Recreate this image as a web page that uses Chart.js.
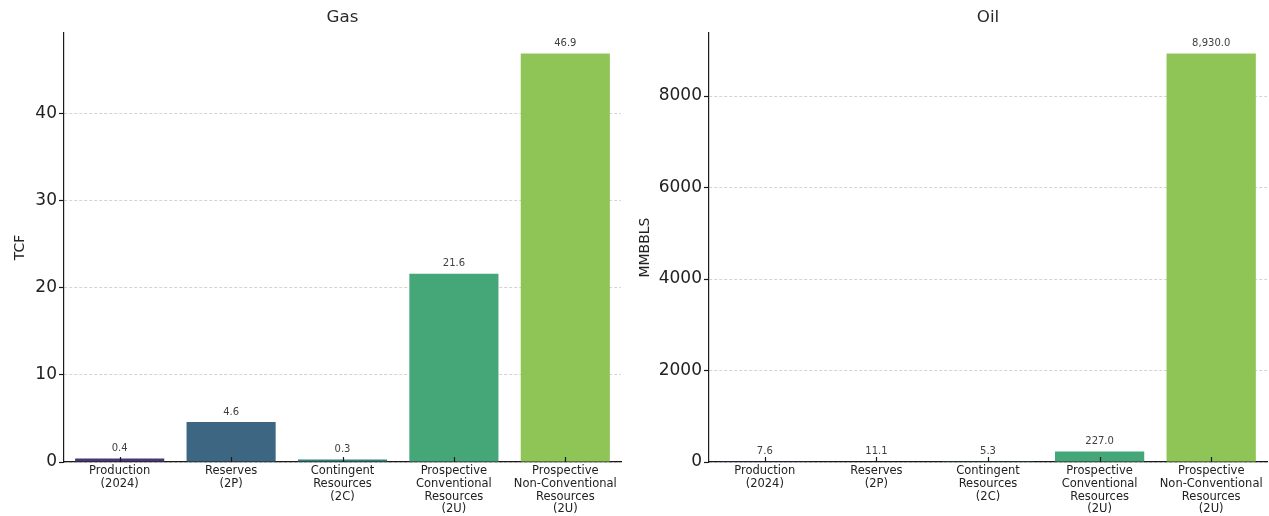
<!DOCTYPE html>
<html>
<head>
<meta charset="utf-8">
<script src="https://cdn.jsdelivr.net/npm/chart.js@4/dist/chart.umd.min.js"></script>
<style>
  html, body { margin: 0; padding: 0; background: #ffffff; }
  #wrap { position: relative; width: 1269px; height: 516px; overflow: hidden; }
  .pane { position: absolute; top: 0; height: 516px; }
  #gasPane { left: 0; width: 634px; }
  #oilPane { left: 634px; width: 635px; }
</style>
</head>
<body>
<div id="wrap">
  <div class="pane" id="gasPane"><canvas id="gasChart" width="634" height="516"></canvas></div>
  <div class="pane" id="oilPane"><canvas id="oilChart" width="635" height="516"></canvas></div>
</div>
<script>
// Resource categories (multi-line axis labels)
const categories = [
  ['Production', '(2024)'],
  ['Reserves', '(2P)'],
  ['Contingent', 'Resources', '(2C)'],
  ['Prospective', 'Conventional', 'Resources', '(2U)'],
  ['Prospective', 'Non-Conventional', 'Resources', '(2U)']
];

// Gas volumes, TCF
const gasValues = [0.4, 4.6, 0.3, 21.6, 46.9];
// Oil volumes, MMBBLS
const oilValues = [7.6, 11.1, 5.3, 227.0, 8930.0];

// Tick values shown on each value axis
const gasTicks = [0, 10, 20, 30, 40];
const oilTicks = [0, 2000, 4000, 6000, 8000];

// Bar fill colours, one per category (muted viridis)
const barColors = ['#4a3771', '#3d6682', '#2f837f', '#45a778', '#8fc556'];

const FONT = "'DejaVu Sans', 'Liberation Sans', sans-serif";
const TEXT = '#222222';
const AXIS = '#1a1a1a';

// Value labels above each bar
const valueLabels = {
  id: 'valueLabels',
  afterDatasetsDraw(chart, args, opts) {
    const { ctx } = chart;
    const meta = chart.getDatasetMeta(0);
    const data = chart.data.datasets[0].data;
    ctx.save();
    ctx.font = '10px ' + FONT;
    ctx.fillStyle = '#404040';
    ctx.textAlign = 'center';
    ctx.textBaseline = 'middle';
    meta.data.forEach((bar, i) => {
      ctx.fillText(opts.format(data[i]), bar.x, bar.y - 10);
    });
    ctx.restore();
  }
};

// Short inward tick marks on the category axis
const innerTicks = {
  id: 'innerTicks',
  afterDatasetsDraw(chart) {
    const { ctx, chartArea } = chart;
    const xs = chart.scales.x;
    ctx.save();
    ctx.strokeStyle = AXIS;
    ctx.lineWidth = 1.2;
    ctx.beginPath();
    chart.data.labels.forEach((_, i) => {
      const x = Math.round(xs.getPixelForValue(i)) + 0.5;
      ctx.moveTo(x, chartArea.bottom);
      ctx.lineTo(x, chartArea.bottom - 5);
    });
    ctx.stroke();
    ctx.restore();
  }
};

function makeChart(canvasId, cfg) {
  return new Chart(document.getElementById(canvasId), {
    type: 'bar',
    data: {
      labels: categories,
      datasets: [{
        data: cfg.values,
        backgroundColor: barColors,
        borderWidth: 0,
        barPercentage: 0.8,
        categoryPercentage: 1.0
      }]
    },
    plugins: [valueLabels, innerTicks],
    options: {
      responsive: false,
      animation: false,
      devicePixelRatio: 1,
      layout: { padding: { left: 0, right: cfg.rightPad, top: 0, bottom: 0 } },
      plugins: {
        legend: { display: false },
        tooltip: { enabled: false },
        title: {
          display: true,
          text: cfg.title,
          fullSize: false,
          color: '#2a2a2a',
          font: { family: FONT, size: 16.7, weight: 'normal' },
          padding: { top: 8, bottom: 5 }
        },
        valueLabels: { format: cfg.format }
      },
      scales: {
        x: {
          offset: true,
          grid: { display: false, drawTicks: false, drawOnChartArea: false },
          border: { display: true, color: AXIS, width: 1.2 },
          ticks: {
            color: TEXT,
            padding: 3,
            maxRotation: 0,
            autoSkip: false,
            font: { family: FONT, size: 11.5, lineHeight: 1.1 }
          },
          afterFit(scale) { scale.height = 54; }
        },
        y: {
          min: 0,
          max: cfg.max,
          grid: {
            color: '#c8c8c8',
            lineWidth: 0.8,
            drawTicks: true,
            tickLength: 5,
            tickColor: AXIS,
            tickWidth: 1.2,
            tickBorderDash: []
          },
          border: { display: true, color: AXIS, width: 1.2, dash: [3, 2] },
          ticks: {
            stepSize: cfg.step,
            color: TEXT,
            padding: 2,
            font: { family: FONT, size: 17 },
            callback: (v) => String(v)
          },
          afterBuildTicks(scale) {
            scale.ticks = cfg.ticks.map(v => ({ value: v }));
          },
          title: {
            display: true,
            text: cfg.yTitle,
            color: TEXT,
            font: { family: FONT, size: 14 },
            padding: { top: cfg.titlePad, bottom: 0 }
          },
          afterFit(scale) { scale.width = cfg.yWidth; }
        }
      }
    }
  });
}

makeChart('gasChart', {
  title: 'Gas',
  yTitle: 'TCF',
  values: gasValues,
  ticks: gasTicks,
  step: 10,
  max: 46.9 * 1.05,
  yWidth: 64,
  rightPad: 13,
  titlePad: 11.6,
  format: (v) => v.toFixed(1)
});

makeChart('oilChart', {
  title: 'Oil',
  yTitle: 'MMBBLS',
  values: oilValues,
  ticks: oilTicks,
  step: 2000,
  max: 8930 * 1.05,
  yWidth: 75,
  rightPad: 2,
  titlePad: 2.6,
  format: (v) => v.toLocaleString('en-US', { minimumFractionDigits: 1, maximumFractionDigits: 1 })
});
</script>
</body>
</html>
